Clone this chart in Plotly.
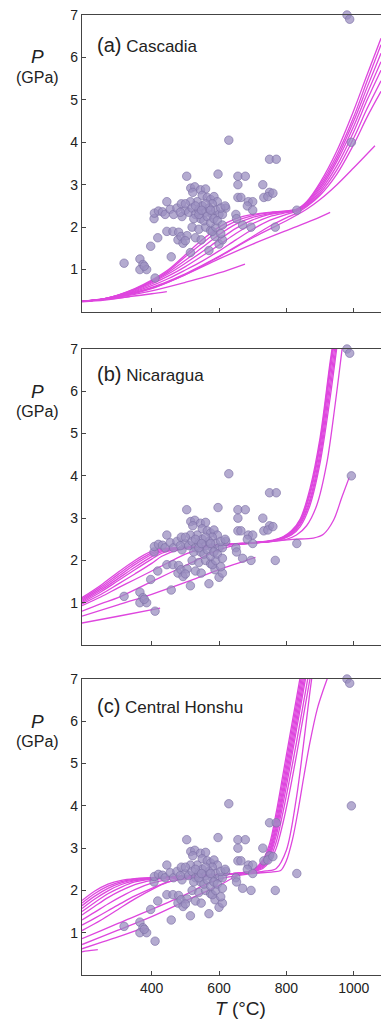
import plotly.graph_objects as go

# ---------------- data ----------------
# observed P-T points (same in all panels)
obs_T = [318, 365, 374, 365, 385, 378, 410, 397, 418, 458,
         407, 408, 420, 432, 445, 440, 455, 465, 475, 488, 490, 500, 485,
         445, 463, 480, 478, 487, 493, 505, 500, 520, 540, 560, 575, 530, 547, 588, 600, 610, 515, 570, 580, 590, 605,
         504, 516, 528, 545, 560, 522, 550, 535, 515, 500, 565, 575, 585, 595, 580, 597, 629,
         510, 520, 530, 540, 550, 560, 570, 580, 590, 600, 545, 555, 565, 575, 585, 595, 610, 620, 530, 525, 610, 540, 560, 575, 605, 548, 618,
         656, 678, 656, 656, 665, 687, 700, 684, 730, 750, 733, 750, 770, 767, 831, 650, 652, 670, 695, 700, 745, 760,
         980, 988, 993]
obs_P = [1.15, 1.25, 1.12, 1.0, 1.0, 1.08, 0.8, 1.55, 1.75, 1.3,
         2.2, 2.33, 2.38, 2.36, 2.6, 2.3, 2.42, 2.3, 2.45, 2.55, 2.25, 2.4, 2.35,
         1.9, 1.9, 1.88, 1.7, 1.78, 1.62, 1.8, 1.68, 2.0, 1.95, 2.0, 1.92, 1.75, 1.7, 1.78, 1.6, 1.7, 1.4, 1.45, 1.9, 2.0, 1.85,
         3.2, 2.92, 2.95, 2.88, 2.9, 2.82, 2.75, 2.6, 2.6, 2.55, 2.7, 2.65, 2.72, 2.6, 2.55, 3.25, 4.05,
         2.35, 2.45, 2.3, 2.4, 2.5, 2.35, 2.45, 2.3, 2.4, 2.3, 2.2, 2.15, 2.25, 2.1, 2.2, 2.15, 2.3, 2.45, 2.5, 2.2, 2.05, 2.3, 2.55, 2.4, 2.45, 2.4, 2.5,
         3.2, 3.2, 3.0, 2.7, 2.7, 2.6, 2.6, 2.5, 3.0, 2.82, 2.7, 3.6, 3.6, 2.0, 2.4, 2.3, 2.2, 2.05, 2.0, 2.4, 2.72, 2.8,
         7.0, 6.9, 4.0]

# (a) Cascadia model paths
casc_T = [193, 250, 300, 350, 400, 450, 500, 550, 600, 650, 700, 750, 800, 830, 860, 900, 950, 1000, 1040, 1081]
casc_1 = [0.25, 0.30, 0.40, 0.55, 0.75, 1.00, 1.35, 1.70, 2.00, 2.20, 2.30, 2.35, 2.38, 2.42, 2.60, 3.05, 3.80, 4.75, 5.60, 6.45]
casc_2 = [0.25, 0.30, 0.40, 0.54, 0.73, 0.97, 1.30, 1.62, 1.92, 2.14, 2.27, 2.34, 2.38, 2.42, 2.58, 3.00, 3.70, 4.60, 5.45, 6.30]
casc_3 = [0.25, 0.30, 0.39, 0.53, 0.71, 0.94, 1.22, 1.52, 1.82, 2.07, 2.23, 2.32, 2.37, 2.41, 2.56, 2.95, 3.62, 4.50, 5.30, 6.10]
casc_4 = [0.25, 0.30, 0.39, 0.52, 0.69, 0.90, 1.15, 1.42, 1.70, 1.97, 2.17, 2.30, 2.36, 2.40, 2.54, 2.90, 3.55, 4.38, 5.15, 5.90]
casc_5 = [0.25, 0.29, 0.38, 0.50, 0.66, 0.85, 1.07, 1.32, 1.58, 1.85, 2.08, 2.25, 2.34, 2.39, 2.52, 2.85, 3.45, 4.25, 5.00, 5.70]
casc_6 = [0.25, 0.29, 0.37, 0.48, 0.62, 0.79, 0.99, 1.20, 1.44, 1.70, 1.95, 2.16, 2.30, 2.37, 2.50, 2.80, 3.35, 4.10, 4.80, 5.45]
casc_7 = [0.25, 0.29, 0.36, 0.46, 0.58, 0.73, 0.90, 1.10, 1.31, 1.54, 1.78, 2.02, 2.22, 2.33, 2.48, 2.75, 3.25, 3.95, 4.60, 5.20]
casc_lone_T = [193, 300, 400, 500, 600, 700, 800, 860, 900, 950, 1000, 1063]
casc_lone_P = [0.25, 0.36, 0.56, 0.88, 1.30, 1.75, 2.15, 2.42, 2.65, 3.00, 3.40, 3.92]
casc_e930_T = [193, 300, 400, 500, 600, 700, 800, 880, 930]
casc_e930_P = [0.25, 0.35, 0.55, 0.88, 1.25, 1.60, 1.92, 2.17, 2.35]
casc_e677_T = [193, 300, 400, 500, 600, 677]
casc_e677_P = [0.25, 0.35, 0.50, 0.70, 0.92, 1.13]
casc_e445_T = [193, 300, 400, 445]
casc_e445_P = [0.25, 0.33, 0.43, 0.48]
casc_e335_T = [193, 260, 335]
casc_e335_P = [0.24, 0.28, 0.36]

# (b) Nicaragua model paths
nica_T = [193, 250, 300, 350, 400, 430, 480, 550, 620, 700, 760, 790, 815, 841, 870, 900, 930, 950]
nica_1 = [1.12, 1.42, 1.72, 2.00, 2.22, 2.28, 2.30, 2.34, 2.38, 2.42, 2.48, 2.56, 2.70, 2.98, 3.70, 4.90, 6.70, 7.80]
nica_2 = [1.09, 1.38, 1.67, 1.95, 2.18, 2.26, 2.30, 2.34, 2.38, 2.42, 2.47, 2.55, 2.68, 2.95, 3.62, 4.80, 6.60, 7.70]
nica_3 = [1.06, 1.34, 1.62, 1.90, 2.14, 2.24, 2.29, 2.34, 2.38, 2.42, 2.47, 2.54, 2.66, 2.92, 3.55, 4.70, 6.45, 7.60]
nica_4 = [1.03, 1.30, 1.57, 1.84, 2.09, 2.21, 2.28, 2.33, 2.37, 2.41, 2.46, 2.53, 2.64, 2.88, 3.45, 4.55, 6.25, 7.40]
nica_5 = [1.00, 1.26, 1.52, 1.78, 2.03, 2.17, 2.27, 2.33, 2.37, 2.41, 2.46, 2.52, 2.62, 2.85, 3.38, 4.42, 6.05, 7.20]
nica_6 = [0.97, 1.20, 1.44, 1.68, 1.93, 2.10, 2.25, 2.32, 2.37, 2.41, 2.45, 2.51, 2.60, 2.80, 3.30, 4.30, 5.85, 7.05]
nica_m1_T = [193, 250, 300, 350, 400, 450, 500, 560, 620, 700, 760, 800, 830, 860, 890, 920, 945, 970]
nica_m1_P = [0.93, 1.14, 1.35, 1.55, 1.75, 1.95, 2.15, 2.30, 2.36, 2.41, 2.45, 2.50, 2.60, 2.82, 3.30, 4.30, 5.70, 7.30]
nica_m2_T = [193, 250, 300, 400, 500, 600, 650, 700, 760, 820, 880, 910, 940, 965, 987]
nica_m2_P = [0.80, 0.98, 1.12, 1.50, 1.88, 2.25, 2.36, 2.42, 2.46, 2.50, 2.53, 2.62, 2.95, 3.50, 3.97]
nica_m3_T = [193, 300, 400, 500, 600, 708]
nica_m3_P = [0.68, 0.95, 1.20, 1.48, 1.78, 2.07]
nica_m5_T = [193, 300, 425]
nica_m5_P = [0.52, 0.68, 0.87]

# (c) Central Honshu model paths
hon_T = [193, 230, 270, 310, 350, 400, 450, 550, 650, 700, 730, 750, 770, 790, 810, 830, 850, 870]
hon_1 = [1.76, 1.98, 2.15, 2.24, 2.28, 2.30, 2.32, 2.36, 2.40, 2.48, 2.72, 3.10, 3.85, 4.75, 5.65, 6.55, 7.45, 8.30]
hon_2 = [1.70, 1.92, 2.10, 2.21, 2.27, 2.30, 2.32, 2.36, 2.40, 2.48, 2.68, 3.02, 3.72, 4.60, 5.50, 6.40, 7.30, 8.20]
hon_3 = [1.64, 1.86, 2.05, 2.18, 2.25, 2.29, 2.32, 2.36, 2.40, 2.47, 2.65, 2.95, 3.60, 4.45, 5.35, 6.25, 7.15, 8.00]
hon_4 = [1.57, 1.79, 1.99, 2.14, 2.23, 2.28, 2.31, 2.36, 2.40, 2.47, 2.63, 2.90, 3.50, 4.32, 5.20, 6.10, 7.00, 7.90]
hon_5 = [1.50, 1.71, 1.92, 2.08, 2.20, 2.27, 2.31, 2.36, 2.40, 2.46, 2.60, 2.85, 3.40, 4.20, 5.05, 5.95, 6.85, 7.75]
hon_6 = [1.42, 1.62, 1.83, 2.00, 2.14, 2.24, 2.30, 2.35, 2.40, 2.46, 2.58, 2.80, 3.30, 4.05, 4.90, 5.80, 6.70, 7.60]
hon_7 = [1.30, 1.48, 1.68, 1.86, 2.02, 2.17, 2.26, 2.34, 2.39, 2.45, 2.55, 2.74, 3.15, 3.85, 4.65, 5.50, 6.40, 7.30]
hon_8 = [1.18, 1.34, 1.52, 1.70, 1.87, 2.05, 2.20, 2.32, 2.39, 2.44, 2.52, 2.68, 3.00, 3.60, 4.35, 5.20, 6.10, 7.00]
hon_n1_T = [193, 250, 300, 350, 400, 450, 500, 600, 700, 740, 770, 800, 830, 850, 870, 885]
hon_n1_P = [1.05, 1.30, 1.55, 1.80, 2.02, 2.20, 2.30, 2.36, 2.42, 2.46, 2.52, 2.95, 4.20, 5.40, 6.70, 7.60]
hon_n2_T = [193, 250, 300, 400, 500, 550, 600, 700, 760, 783, 800, 818, 835, 852, 870, 892, 910, 921, 935]
hon_n2_P = [0.86, 1.05, 1.22, 1.55, 1.90, 2.10, 2.27, 2.40, 2.44, 2.47, 2.70, 3.20, 3.90, 4.70, 5.50, 6.30, 6.75, 7.00, 7.30]
hon_n3_T = [193, 250, 300, 400, 500, 600, 665, 720]
hon_n3_P = [0.72, 0.90, 1.06, 1.38, 1.75, 2.12, 2.38, 2.42]
hon_n4_T = [193, 250, 300, 378]
hon_n4_P = [0.62, 0.77, 0.90, 1.12]
hon_n5_T = [193, 220, 240]
hon_n5_P = [0.55, 0.58, 0.60]

panel_titles = ["(a)", "(b)", "(c)"]
panel_names = ["Cascadia", "Nicaragua", "Central Honshu"]
x_ticks = [400, 600, 800, 1000]
y_ticks = [1, 2, 3, 4, 5, 6, 7]

# ---------------- figure ----------------
LINE_COL = "rgb(222,70,222)"
DOT_COL = "rgba(155,143,192,0.75)"
FONT = "Liberation Sans, Arial, sans-serif"

panels = [
    [(casc_T, c) for c in (casc_1, casc_2, casc_3, casc_4, casc_5, casc_6, casc_7)]
    + [(casc_lone_T, casc_lone_P), (casc_e930_T, casc_e930_P), (casc_e677_T, casc_e677_P),
       (casc_e445_T, casc_e445_P), (casc_e335_T, casc_e335_P)],
    [(nica_T, c) for c in (nica_1, nica_2, nica_3, nica_4, nica_5, nica_6)]
    + [(nica_m1_T, nica_m1_P), (nica_m2_T, nica_m2_P), (nica_m3_T, nica_m3_P), (nica_m5_T, nica_m5_P)],
    [(hon_T, c) for c in (hon_1, hon_2, hon_3, hon_4, hon_5, hon_6, hon_7, hon_8)]
    + [(hon_n1_T, hon_n1_P), (hon_n2_T, hon_n2_P), (hon_n3_T, hon_n3_P),
       (hon_n4_T, hon_n4_P), (hon_n5_T, hon_n5_P)],
]

W, H = 381, 1034
mt, mb, ml = 15, 59, 82
plot_h = H - mt - mb
tops = [15, 349, 679]
bots = [312, 645, 975]
label_y = [45, 374, 706]


def py(pix):
    return (H - mb - pix) / plot_h


def px(pix):
    return (pix - ml) / (W - ml)


fig = go.Figure()
for i, curves in enumerate(panels):
    ax = "" if i == 0 else str(i + 1)
    for (tt, pp) in curves:
        fig.add_trace(go.Scatter(x=tt, y=pp, mode="lines",
                                 line=dict(color=LINE_COL, width=1.3, shape="spline", smoothing=0.9),
                                 xaxis="x" + ax, yaxis="y" + ax, showlegend=False, hoverinfo="skip"))
    fig.add_trace(go.Scatter(x=obs_T, y=obs_P, mode="markers",
                             marker=dict(color=DOT_COL, size=8.5,
                                         line=dict(color="rgba(125,112,165,0.8)", width=0.8)),
                             cliponaxis=False,
                             xaxis="x" + ax, yaxis="y" + ax, showlegend=False))

layout = dict(width=W, height=H, margin=dict(l=ml, r=0, t=mt, b=mb, pad=0),
              paper_bgcolor="white", plot_bgcolor="white",
              font=dict(family=FONT, color="#222", size=14))
annots = []
for i in range(3):
    ax = "" if i == 0 else str(i + 1)
    layout["xaxis" + ax] = dict(domain=[0, 1], range=[193, 1081], tickvals=x_ticks,
                                showticklabels=(i == 2), ticks="inside", ticklen=4,
                                tickcolor="#444", showline=True, linecolor="#444", linewidth=1.2,
                                mirror=True, showgrid=False, zeroline=False,
                                anchor="y" + ax, tickfont=dict(size=14, color="#222"))
    layout["yaxis" + ax] = dict(domain=[py(bots[i]), py(tops[i])], range=[0, 7], tickvals=y_ticks,
                                ticks="inside", ticklen=4, tickcolor="#444",
                                showline=True, linecolor="#444", linewidth=1.2, mirror=False,
                                showgrid=False, zeroline=False, anchor="x" + ax,
                                tickfont=dict(size=14, color="#222"))
    annots.append(dict(xref="paper", yref="paper", x=px(95), y=py(label_y[i]),
                       xanchor="left", yanchor="middle", showarrow=False,
                       text="<span style='font-size:20px'>" + panel_titles[i] + "</span> " + panel_names[i],
                       font=dict(size=17, color="#222")))
    annots.append(dict(xref="paper", yref="paper", x=px(37), y=py(tops[i] + 42),
                       xanchor="center", yanchor="middle", showarrow=False,
                       text="<i>P</i>", font=dict(size=19, color="#222")))
    annots.append(dict(xref="paper", yref="paper", x=px(38), y=py(tops[i] + 62),
                       xanchor="center", yanchor="middle", showarrow=False,
                       text="(GPa)", font=dict(size=16, color="#222")))
annots.append(dict(xref="paper", yref="paper", x=px(240), y=py(1008),
                   xanchor="center", yanchor="middle", showarrow=False,
                   text="<i>T</i> (°C)", font=dict(size=19, color="#222")))
layout["annotations"] = annots
fig.update_layout(**layout)
fig.write_html("out.html")
